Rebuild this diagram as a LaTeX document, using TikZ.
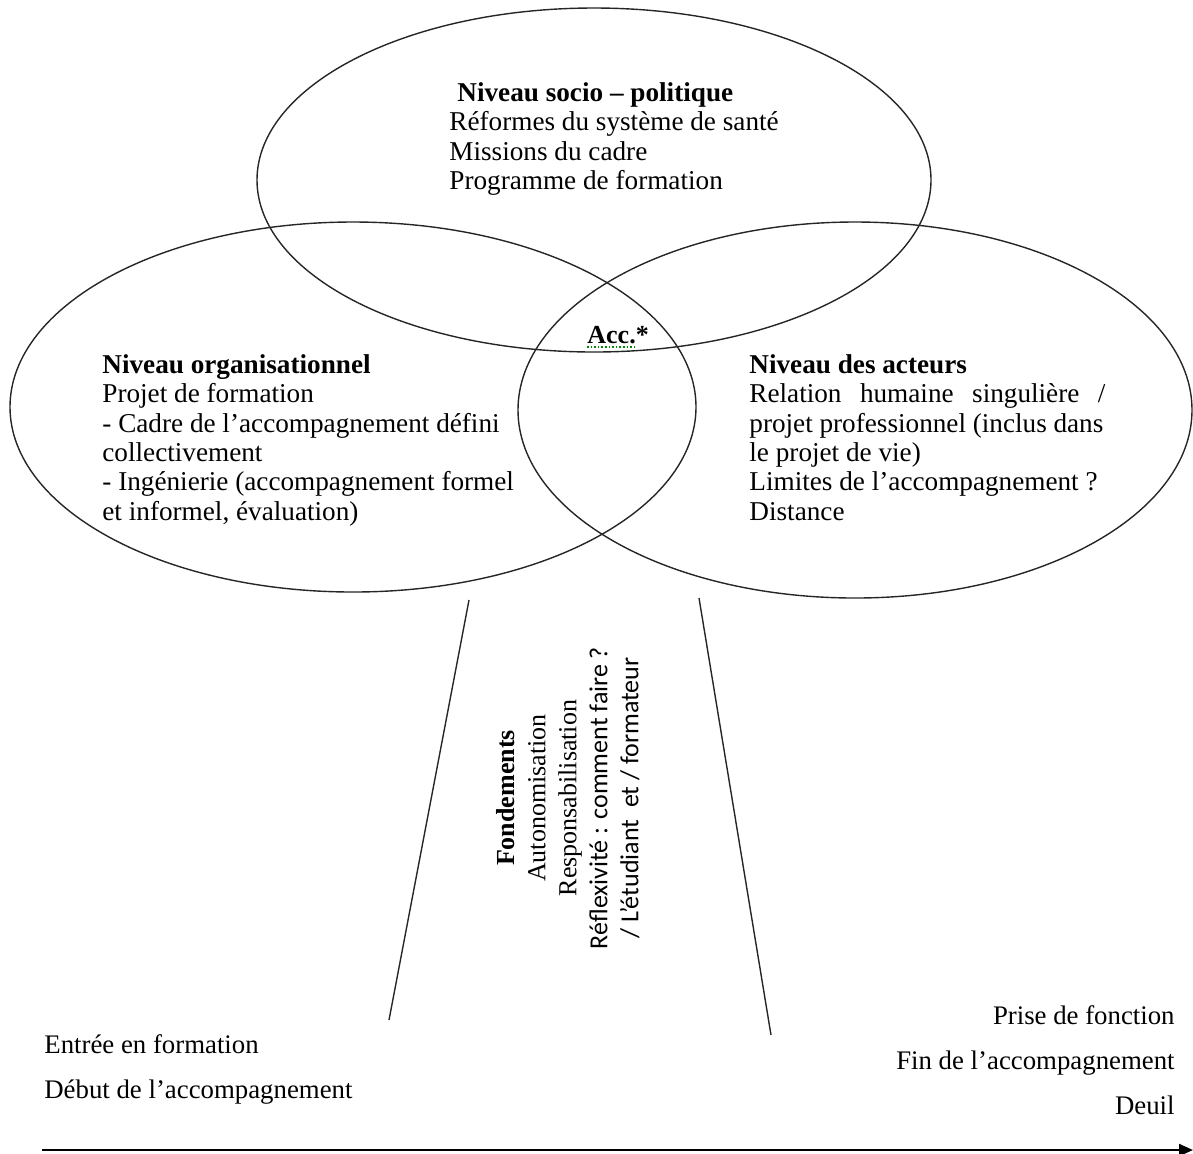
\documentclass[tikz,border=0pt]{standalone}
\usepackage{fontspec}
\setmainfont{Liberation Serif}
\newfontfamily\calib{Carlito}
\usetikzlibrary{arrows.meta}

\begin{document}
\begin{tikzpicture}[x=0.5pt, y=-0.5pt,
      lvl/.style={anchor=north west, inner sep=0pt, align=left, font=\fontsize{13.6}{14.7}\selectfont},
      ring/.style={line width=0.7pt, draw=black!85},
      foot/.style={inner sep=0pt, font=\fontsize{13.4}{22.5}\selectfont}
    ]
    \useasboundingbox (0,0) rectangle (1193,1153);

    % the three levels
    \draw[ring] (594,180) ellipse [x radius=337, y radius=172];
    \draw[ring] (353,407) ellipse [x radius=343, y radius=185];
    \draw[ring] (855,410) ellipse [x radius=337, y radius=188];

    \node[lvl] (socio) at (449,82) {\hspace*{4pt}\textbf{Niveau socio – politique}\\
      Réformes du système de santé\\ Missions du cadre\\ Programme de formation};
    \node[lvl] (orga) at (102,354) {\textbf{Niveau organisationnel}\\ Projet de formation\\
      - Cadre de l’accompagnement défini\\ collectivement\\
      - Ingénierie (accompagnement formel\\ et informel, évaluation)};
    \node[lvl] (acteurs) at (749,354) {\textbf{Niveau des acteurs}\\
      \makebox[178pt][s]{Relation humaine singulière /}\\
      \makebox[177pt][s]{projet professionnel (inclus dans}\\
      le projet de vie)\\ Limites de l’accompagnement ?\\ Distance};

    \node[inner sep=0pt, anchor=base west, font=\fontsize{13}{15}\selectfont\bfseries] (acc) at (587,343) {Acc.*};
    \draw[green!55!black, densely dotted, line width=0.8pt] ([yshift=-2pt]acc.base west) -- ++(50,0);

    % funnel
    \draw[ring] (469,600) -- (389,1020);
    \draw[ring] (699,598) -- (771,1035);
    \node[inner sep=0pt, rotate=90, align=center, font=\fontsize{13}{15.5}\selectfont] (fond) at (568,798)
      {\textbf{Fondements}\\ Autonomisation\\ Responsabilisation\\
       {\calib Réflexivité : comment faire ?}\\ {\calib / L’étudiant \ et / formateur}};

    % time line
    \node[foot, anchor=north west, align=left] (debut) at (44,1034) {Entrée en formation\\ Début de l’accompagnement};
    \node[foot, anchor=north east, align=right] (fin) at (1175,1005) {Prise de fonction\\ Fin de l’accompagnement\\ Deuil};
    \coordinate (t0) at (42,1150);
    \coordinate (t1) at (1193,1150);
    \draw[line width=1.1pt, -{Triangle[length=7pt, width=6pt]}] (t0) -- (t1);
  \end{tikzpicture}
\end{document}
